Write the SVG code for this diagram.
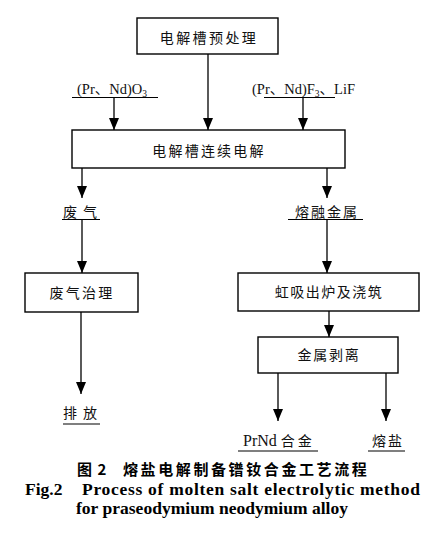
<svg xmlns="http://www.w3.org/2000/svg" width="436" height="554" viewBox="0 0 436 554">
<style>
.box{fill:#fff;stroke:#000;stroke-width:1.4}
.cn{font-family:"Noto Sans CJK SC",sans-serif;font-size:14px;fill:#111}
.lat{font-family:"Liberation Serif","Noto Sans CJK SC",serif;font-size:14.5px;fill:#111}
.ln{stroke:#000;stroke-width:1.3;fill:none}
.ul{stroke:#000;stroke-width:1.1}
.cap{font-family:"Noto Sans CJK SC",sans-serif;font-weight:bold;font-size:15px;fill:#000}
.capE{font-family:"Liberation Serif",serif;font-weight:bold;font-size:17.5px;fill:#000}
</style>
<defs>
<marker id="ah" markerWidth="12" markerHeight="10" viewBox="0 0 12 10" refX="12" refY="5" orient="auto" markerUnits="userSpaceOnUse">
<path d="M0,0 L12,5 L0,10 z" fill="#000"/>
</marker>
</defs>
<rect width="436" height="554" fill="#fff"/>

<g id="connectors">
<line class="ln" x1="208" y1="54" x2="208" y2="130" marker-end="url(#ah)"/>
<line class="ln" x1="114" y1="97.5" x2="114" y2="130" marker-end="url(#ah)"/>
<line class="ln" x1="303" y1="97.5" x2="303" y2="130" marker-end="url(#ah)"/>
<line class="ln" x1="82" y1="168" x2="82" y2="198" marker-end="url(#ah)"/>
<line class="ln" x1="82" y1="219.5" x2="82" y2="273" marker-end="url(#ah)"/>
<line class="ln" x1="327" y1="168" x2="327" y2="198" marker-end="url(#ah)"/>
<line class="ln" x1="327" y1="219.5" x2="327" y2="273" marker-end="url(#ah)"/>
<line class="ln" x1="329" y1="311" x2="329" y2="337" marker-end="url(#ah)"/>
<line class="ln" x1="81" y1="312" x2="81" y2="394" marker-end="url(#ah)"/>
<line class="ln" x1="278" y1="373" x2="278" y2="421" marker-end="url(#ah)"/>
<line class="ln" x1="386" y1="373" x2="386" y2="421" marker-end="url(#ah)"/>
</g>

<g id="n1">
<rect class="box" x="137" y="18" width="141" height="36"/>
<text class="cn" x="209" y="43" text-anchor="middle" letter-spacing="2.4">电解槽预处理</text>
</g>

<g id="l_o3">
<text class="lat" x="77" y="94">(Pr、Nd)O<tspan font-size="9.5" dy="3">3</tspan></text>
<line class="ul" x1="72" y1="97.5" x2="158" y2="97.5"/>
</g>

<g id="l_f3">
<text class="lat" x="252" y="94">(Pr、Nd)F<tspan font-size="9.5" dy="3">3</tspan><tspan dy="-3">、LiF</tspan></text>
<line class="ul" x1="264" y1="97.5" x2="335" y2="97.5"/>
</g>

<g id="n2">
<rect class="box" x="72" y="130" width="273" height="38"/>
<text class="cn" x="209" y="156" text-anchor="middle" letter-spacing="2.2">电解槽连续电解</text>
</g>

<g id="l_waste">
<text class="cn" x="63" y="217" letter-spacing="6">废气</text>
<line class="ul" x1="62" y1="219.5" x2="100" y2="219.5"/>
</g>

<g id="l_metal">
<text class="cn" x="295" y="217" letter-spacing="2">熔融金属</text>
<line class="ul" x1="288" y1="219.5" x2="363" y2="219.5"/>
</g>

<g id="n3">
<rect class="box" x="25" y="273" width="113" height="39"/>
<text class="cn" x="82" y="298" text-anchor="middle" letter-spacing="2.3">废气治理</text>
</g>

<g id="n4">
<rect class="box" x="238" y="273" width="181" height="38"/>
<text class="cn" x="329" y="297" text-anchor="middle" letter-spacing="1.5">虹吸出炉及浇筑</text>
</g>

<g id="n5">
<rect class="box" x="258" y="337" width="140" height="36"/>
<text class="cn" x="329" y="360" text-anchor="middle" letter-spacing="1.8">金属剥离</text>
</g>

<g id="l_emit">
<text class="cn" x="63" y="418" letter-spacing="6">排放</text>
<line class="ul" x1="63" y1="424" x2="100" y2="424"/>
</g>

<g id="l_alloy">
<text class="lat" x="243" y="446" style="font-size:16px">PrNd <tspan class="cn" style="font-size:14px" letter-spacing="3">合金</tspan></text>
<line class="ul" x1="238" y1="451" x2="318" y2="451"/>
</g>

<g id="l_salt">
<text class="cn" x="372" y="446" letter-spacing="2">熔盐</text>
<line class="ul" x1="368" y1="451" x2="405" y2="451"/>
</g>

<g id="caption">
<text class="cap" x="77" y="475">图 <tspan dx="2">2</tspan></text>
<text class="cap" x="123" y="475" letter-spacing="2.6">熔盐电解制备镨钕合金工艺流程</text>
<text class="capE" x="25" y="495">Fig.2</text>
<text class="capE" x="82" y="495" textLength="338">Process of molten salt electrolytic method</text>
<text class="capE" x="76" y="514" textLength="272">for praseodymium neodymium alloy</text>
</g>
</svg>
